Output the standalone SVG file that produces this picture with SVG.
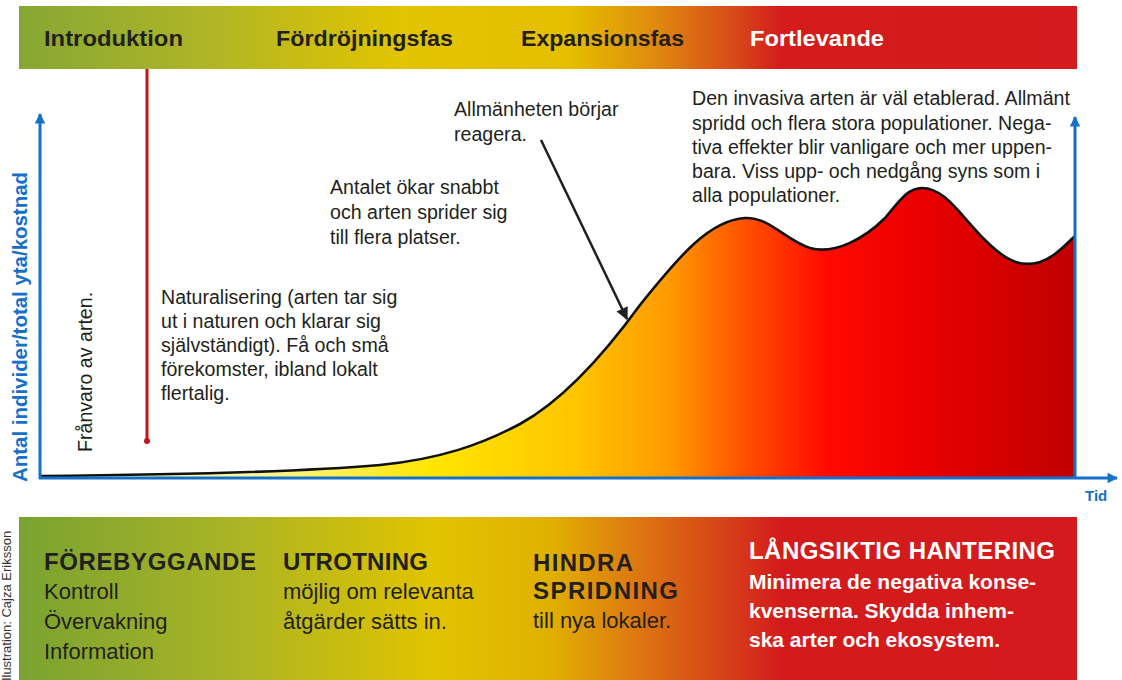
<svg xmlns="http://www.w3.org/2000/svg" width="1122" height="680" viewBox="0 0 1122 680">
  <defs>
    <linearGradient id="topBand" x1="19" y1="0" x2="1077" y2="0" gradientUnits="userSpaceOnUse">
      <stop offset="0" stop-color="#86a734"/>
      <stop offset="0.18" stop-color="#b0b526"/>
      <stop offset="0.36" stop-color="#e2c400"/>
      <stop offset="0.52" stop-color="#e5bf00"/>
      <stop offset="0.6" stop-color="#df8a0e"/>
      <stop offset="0.68" stop-color="#d8461a"/>
      <stop offset="0.72" stop-color="#d41c1c"/>
      <stop offset="1" stop-color="#d41a1c"/>
    </linearGradient>
    <linearGradient id="bottomBand" x1="19" y1="0" x2="1077" y2="0" gradientUnits="userSpaceOnUse">
      <stop offset="0" stop-color="#7aa231"/>
      <stop offset="0.2" stop-color="#a9b425"/>
      <stop offset="0.39" stop-color="#e1c300"/>
      <stop offset="0.5" stop-color="#e0b100"/>
      <stop offset="0.58" stop-color="#dd7a10"/>
      <stop offset="0.67" stop-color="#d7401a"/>
      <stop offset="0.72" stop-color="#d41b1c"/>
      <stop offset="1" stop-color="#d41a1c"/>
    </linearGradient>
    <linearGradient id="curveFill" x1="40" y1="0" x2="1075" y2="0" gradientUnits="userSpaceOnUse">
      <stop offset="0.2" stop-color="#fff6a0"/>
      <stop offset="0.38" stop-color="#ffe600"/>
      <stop offset="0.52" stop-color="#ffc400"/>
      <stop offset="0.61" stop-color="#ff9800"/>
      <stop offset="0.68" stop-color="#ff5200"/>
      <stop offset="0.76" stop-color="#ff0a00"/>
      <stop offset="0.84" stop-color="#ee0000"/>
      <stop offset="1" stop-color="#bf0000"/>
    </linearGradient>
    <marker id="blueHead" viewBox="0 0 10 10" refX="9" refY="5" markerWidth="4" markerHeight="3.5" orient="auto" markerUnits="strokeWidth">
      <path d="M0,0 L10,5 L0,10 Z" fill="#1570c9"/>
    </marker>
    <marker id="blackHead" viewBox="0 0 10 10" refX="9" refY="5" markerWidth="6" markerHeight="5" orient="auto" markerUnits="strokeWidth">
      <path d="M0,0 L10,5 L0,10 Z" fill="#231f20"/>
    </marker>
  </defs>
  <style>
    .phase { font-family: "Liberation Sans", Arial, sans-serif; font-weight: bold; font-size: 22.5px; fill: #231f20; }
    .note { font-family: "Liberation Sans", Arial, sans-serif; font-size: 19.6px; fill: #231f20; }
    .head { font-family: "Liberation Sans", Arial, sans-serif; font-weight: bold; font-size: 24px; fill: #231f20; }
    .body { font-family: "Liberation Sans", Arial, sans-serif; font-size: 22px; fill: #231f20; }
    .white { fill: #ffffff; }
    .wbody { font-family: "Liberation Sans", Arial, sans-serif; font-weight: bold; font-size: 21px; fill: #ffffff; }
    .axis { stroke: #1570c9; stroke-width: 3; fill: none; }
    .axislabel { font-family: "Liberation Sans", Arial, sans-serif; font-weight: bold; fill: #1570c9; }
  </style>

  <rect width="1122" height="680" fill="#ffffff"/>

  <!-- phase banner -->
  <g id="phase-banner">
    <rect x="19" y="6" width="1058" height="63" fill="url(#topBand)"/>
    <text class="phase" x="44" y="46" textLength="139" lengthAdjust="spacingAndGlyphs">Introduktion</text>
    <text class="phase" x="276" y="46" textLength="177" lengthAdjust="spacingAndGlyphs">Fördröjningsfas</text>
    <text class="phase" x="521" y="46" textLength="163" lengthAdjust="spacingAndGlyphs">Expansionsfas</text>
    <text class="phase white" x="750" y="46" textLength="134" lengthAdjust="spacingAndGlyphs">Fortlevande</text>
  </g>

  <!-- population curve -->
  <g id="curve">
    <path d="M40,476 C150,475 300,472 380,465 C440,459 480,445 520,424 C560,402 600,360 640,305 C680,255 710,220 745,218 C770,217 785,240 810,248 C835,255 865,238 885,218 C900,200 908,188 922,188 C945,188 960,215 985,240 C1005,260 1020,268 1040,262 C1055,257 1065,245 1075,236 L1075,478 L40,478 Z" fill="url(#curveFill)"/>
    <path d="M40,476 C150,475 300,472 380,465 C440,459 480,445 520,424 C560,402 600,360 640,305 C680,255 710,220 745,218 C770,217 785,240 810,248 C835,255 865,238 885,218 C900,200 908,188 922,188 C945,188 960,215 985,240 C1005,260 1020,268 1040,262 C1055,257 1065,245 1075,236" fill="none" stroke="#111111" stroke-width="2.6"/>
  </g>

  <!-- axes and pointers -->
  <g id="connectors">
    <line class="axis" x1="40" y1="479" x2="40" y2="114" marker-end="url(#blueHead)"/>
    <line class="axis" x1="1075" y1="479" x2="1075" y2="117" marker-end="url(#blueHead)"/>
    <line class="axis" x1="39" y1="478" x2="1117" y2="478" marker-end="url(#blueHead)"/>
    <line x1="147" y1="69" x2="147" y2="441" stroke="#c3141b" stroke-width="3"/>
    <circle cx="147" cy="441" r="3" fill="#c3141b"/>
    <line x1="541" y1="140" x2="627" y2="319" stroke="#231f20" stroke-width="2.5" marker-end="url(#blackHead)"/>
  </g>

  <g id="axis-labels">
    <text class="axislabel" font-size="20" transform="translate(27,482) rotate(-90)" textLength="310" lengthAdjust="spacingAndGlyphs">Antal individer/total yta/kostnad</text>
    <text class="axislabel" font-size="15" x="1085" y="501">Tid</text>
  </g>

  <g id="note-absence">
    <text class="note" transform="translate(92,452) rotate(-90)">Frånvaro av arten.</text>
  </g>

  <g id="note-naturalisation">
    <text class="note" x="161" y="304">Naturalisering (arten tar sig</text>
    <text class="note" x="161" y="328">ut i naturen och klarar sig</text>
    <text class="note" x="161" y="352">självständigt). Få och små</text>
    <text class="note" x="161" y="376">förekomster, ibland lokalt</text>
    <text class="note" x="161" y="400">flertalig.</text>
  </g>

  <g id="note-spread">
    <text class="note" x="330" y="194">Antalet ökar snabbt</text>
    <text class="note" x="330" y="219">och arten sprider sig</text>
    <text class="note" x="330" y="244">till flera platser.</text>
  </g>

  <g id="note-public">
    <text class="note" x="454" y="116">Allmänheten börjar</text>
    <text class="note" x="454" y="141">reagera.</text>
  </g>

  <g id="note-established">
    <text class="note" x="692" y="105">Den invasiva arten är väl etablerad. Allmänt</text>
    <text class="note" x="692" y="130">spridd och flera stora populationer. Nega-</text>
    <text class="note" x="692" y="154">tiva effekter blir vanligare och mer uppen-</text>
    <text class="note" x="692" y="178">bara. Viss upp- och nedgång syns som i</text>
    <text class="note" x="692" y="202">alla populationer.</text>
  </g>

  <!-- measures banner -->
  <g id="measures-banner">
    <rect x="19" y="517" width="1058" height="163" fill="url(#bottomBand)"/>
  </g>

  <g id="measure-prevent">
    <text class="head" x="44" y="570" textLength="212" lengthAdjust="spacing">FÖREBYGGANDE</text>
    <text class="body" x="44" y="599">Kontroll</text>
    <text class="body" x="44" y="629">Övervakning</text>
    <text class="body" x="44" y="659">Information</text>
  </g>

  <g id="measure-eradicate">
    <text class="head" x="283" y="570" textLength="145" lengthAdjust="spacing">UTROTNING</text>
    <text class="body" x="283" y="599">möjlig om relevanta</text>
    <text class="body" x="283" y="629">åtgärder sätts in.</text>
  </g>

  <g id="measure-contain">
    <text class="head" x="533" y="571" textLength="100" lengthAdjust="spacing">HINDRA</text>
    <text class="head" x="533" y="599" textLength="145" lengthAdjust="spacing">SPRIDNING</text>
    <text class="body" x="533" y="628">till nya lokaler.</text>
  </g>

  <g id="measure-manage">
    <text class="head white" x="749" y="559" textLength="306" lengthAdjust="spacing">LÅNGSIKTIG HANTERING</text>
    <text class="wbody" x="749" y="589">Minimera de negativa konse-</text>
    <text class="wbody" x="749" y="618">kvenserna. Skydda inhem-</text>
    <text class="wbody" x="749" y="647">ska arter och ekosystem.</text>
  </g>

  <g id="credit">
    <text font-family="'Liberation Sans', Arial, sans-serif" font-size="13" fill="#333333" transform="translate(11,684) rotate(-90)">Illustration: Cajza Eriksson</text>
  </g>
</svg>
